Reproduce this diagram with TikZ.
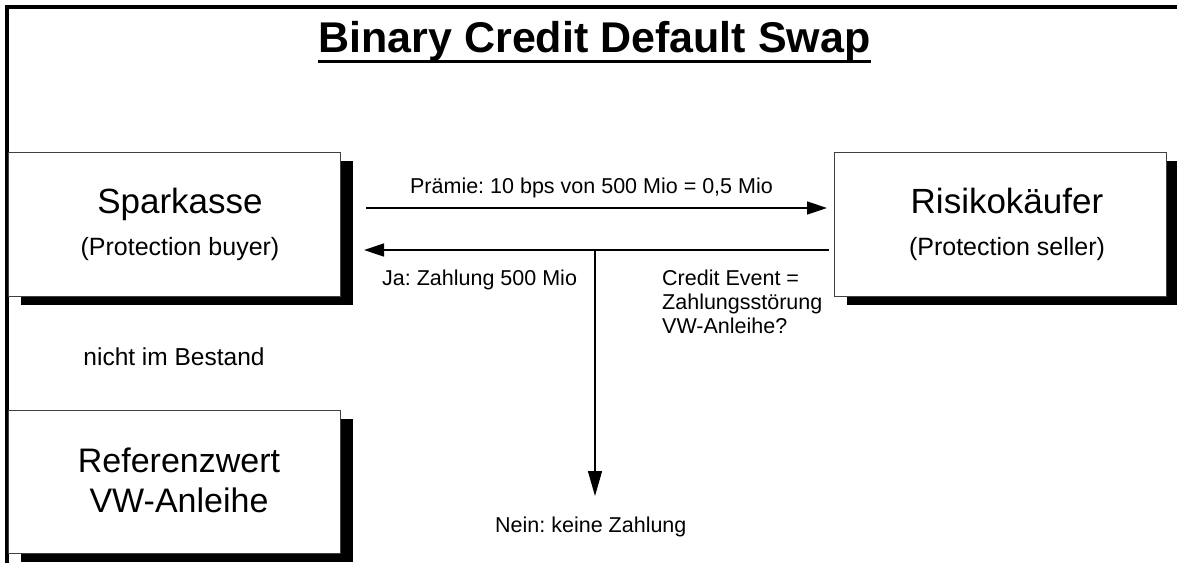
\documentclass[tikz,border=0pt]{standalone}
\usepackage{fontspec}
\setmainfont{Liberation Sans}
\usetikzlibrary{arrows.meta,shadows}
\frenchspacing
\begin{document}
\begin{tikzpicture}[x=1pt,y=-1pt,
  box/.style={draw=black!75, line width=1pt, fill=white, anchor=north west,
    minimum width=332pt, minimum height=144pt, inner sep=0pt,
    drop shadow={shadow xshift=12.5pt, shadow yshift=-8pt, fill=black, opacity=1}},
  bigtxt/.style={anchor=base, inner sep=0pt, font=\fontsize{35}{40}\selectfont},
  midtxt/.style={anchor=base, inner sep=0pt, font=\fontsize{25}{30}\selectfont},
  lbl/.style={anchor=base west, inner sep=0pt, font=\fontsize{21.5}{24}\selectfont},
  conn/.style={line width=1.4pt},
]
\useasboundingbox (0,0) rectangle (1177,563);
\fill[white] (0,0) rectangle (1177,563);
% frame
\coordinate (fbl) at (7,563);
\coordinate (ftl) at (7,7);
\coordinate (ftr) at (1177,7);
\draw[line width=3.5pt] (fbl) -- (ftl) -- (ftr);
% title
\node[anchor=base, inner sep=0pt, font=\fontsize{43}{48}\selectfont\bfseries] (title) at (594.5,52) {Binary Credit Default Swap};
\draw[line width=3pt] ([yshift=-9pt]title.base west) -- ([yshift=-9pt]title.base east);
% boxes
\node[box] (spk) at (8,152) {};
\node[box] (risk) at (834,152) {};
\node[box, minimum height=143pt] (ref) at (8,410) {};
% box texts
\node[bigtxt] (spkname) at (180,213) {Sparkasse};
\node[midtxt] (spkrole) at (180,255) {(Protection buyer)};
\node[bigtxt] (riskname) at (1007,213) {Risikokäufer};
\node[midtxt] (riskrole) at (1007,255) {(Protection seller)};
\node[bigtxt, font=\fontsize{34}{40}\selectfont] (ref1) at (179,472) {Referenzwert};
\node[bigtxt, font=\fontsize{34}{40}\selectfont] (ref2) at (179,512) {VW-Anleihe};
% other texts
\node[anchor=base, inner sep=0pt, font=\fontsize{24.5}{28}\selectfont] (nib) at (174,365) {nicht im Bestand};
\node[anchor=base, inner sep=0pt, font=\fontsize{21.5}{24}\selectfont] (praemie) at (591.5,193) {Prämie: 10 bps von 500 Mio = 0,5 Mio};
\node[lbl] (ja) at (382,285) {Ja: Zahlung 500 Mio};
\node[lbl] (ce1) at (662,285) {Credit Event =};
\node[lbl] (ce2) at (662,309) {Zahlungsstörung};
\node[lbl] (ce3) at (662,333) {VW-Anleihe?};
\node[lbl] (nein) at (495,532) {Nein: keine Zahlung};
% connectors
\coordinate (p1s) at (366,208);
\coordinate (p1e) at (827,208);
\coordinate (p2s) at (829,250);
\coordinate (p2e) at (364,250);
\coordinate (vs) at (595,250);
\coordinate (ve) at (595,496);
\draw[conn, -{Triangle[length=20pt,width=13pt]}] (p1s) -- (p1e);
\draw[conn, -{Triangle[length=20pt,width=13pt]}] (p2s) -- (p2e);
\draw[conn, -{Triangle[length=25pt,width=14pt]}] (vs) -- (ve);
\end{tikzpicture}
\end{document}
